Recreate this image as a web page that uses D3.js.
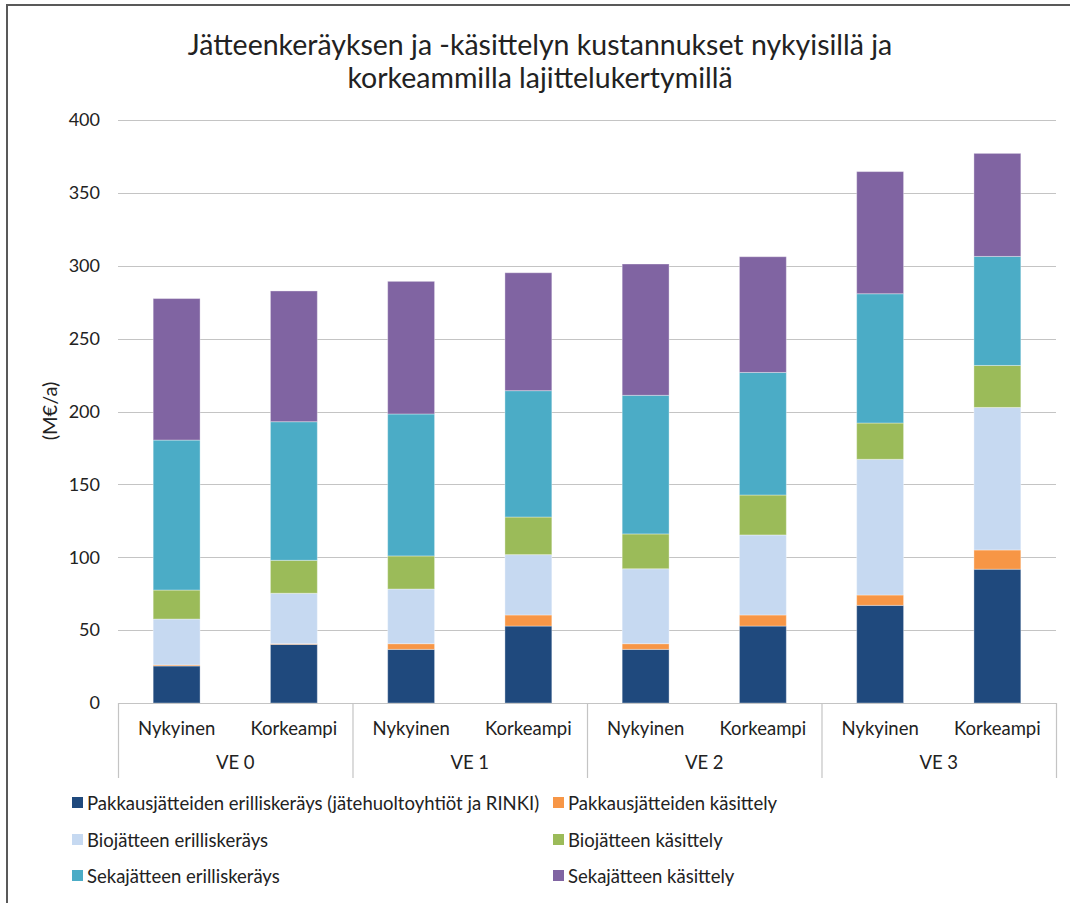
<!DOCTYPE html>
<html>
<head>
<meta charset="utf-8">
<script src="https://cdn.jsdelivr.net/npm/d3@7"></script>
<style>
  html, body { margin: 0; padding: 0; background: #ffffff; }
  svg { display: block; font-family: Lato, "Open Sans", sans-serif; }
</style>
</head>
<body>
<svg id="chart" width="1070" height="903"></svg>
<script>
const title = ["Jätteenkeräyksen ja -käsittelyn kustannukset nykyisillä ja", "korkeammilla lajittelukertymillä"];
const yLabel = "(M€/a)";
const groups = ["VE 0", "VE 1", "VE 2", "VE 3"];
const scenarios = ["Nykyinen", "Korkeampi"];
const yTicks = [0, 50, 100, 150, 200, 250, 300, 350, 400];

const seriesNames = [
  "Pakkausjätteiden erilliskeräys (jätehuoltoyhtiöt ja RINKI)",
  "Pakkausjätteiden käsittely",
  "Biojätteen erilliskeräys",
  "Biojätteen käsittely",
  "Sekajätteen erilliskeräys",
  "Sekajätteen käsittely"
];
const seriesColors = ["#1F497D", "#F79646", "#C6D9F1", "#9BBB59", "#4BACC6", "#8064A2"];

// values per bar: VE0 Nyk, VE0 Kork, VE1 Nyk, VE1 Kork, VE2 Nyk, VE2 Kork, VE3 Nyk, VE3 Kork
const pakkausKerays   = [25.4, 40.2, 36.8, 52.8, 36.8, 52.8, 67.0, 91.8];
const pakkausKasittely= [0.7, 0.5, 3.9, 7.6, 3.9, 7.6, 7.1, 13.2];
const bioKerays       = [31.5, 34.6, 37.5, 41.4, 51.4, 54.9, 93.1, 97.8];
const bioKasittely    = [19.9, 22.6, 22.7, 25.8, 23.9, 27.4, 24.9, 28.8];
const sekaKerays      = [102.9, 95.1, 97.4, 86.7, 95.1, 84.1, 88.7, 74.8];
const sekaKasittely   = [97.1, 89.7, 91.0, 80.9, 90.1, 79.4, 83.8, 70.7];

const seriesValues = [pakkausKerays, pakkausKasittely, bioKerays, bioKasittely, sekaKerays, sekaKasittely];

const categories = [];
groups.forEach(g => scenarios.forEach(s => categories.push({group: g, scenario: s, key: g + "|" + s})));
const rows = categories.map((c, i) => {
  const r = {key: c.key};
  seriesNames.forEach((n, j) => r[n] = seriesValues[j][i]);
  return r;
});

const svg = d3.select("#chart");

// outer frame
svg.append("rect").attr("x", 7).attr("y", 5).attr("width", 1080).attr("height", 920)
  .attr("fill", "none").attr("stroke", "#595959").attr("stroke-width", 2);

const plotLeft = 118, plotRight = 1056, plotTop = 120, plotBottom = 703;

const y = d3.scaleLinear().domain([0, 400]).range([plotBottom, plotTop]);
const x = d3.scaleBand().domain(categories.map(c => c.key)).range([plotLeft, plotRight]).padding(0);
const xg = d3.scaleBand().domain(groups).range([plotLeft, plotRight]).padding(0);

// gridlines + y axis labels
const yAxis = d3.axisLeft(y).tickValues(yTicks).tickSize(0).tickPadding(18);
const ga = svg.append("g").attr("transform", `translate(${plotLeft},0)`).call(yAxis);
ga.select(".domain").remove();
ga.selectAll("text").attr("font-size", 18).attr("fill", "#222").attr("font-family", "Lato, sans-serif");

svg.append("g").selectAll("line").data(yTicks.filter(t => t > 0)).join("line")
  .attr("x1", plotLeft).attr("x2", plotRight)
  .attr("y1", d => Math.round(y(d)) + 0.5).attr("y2", d => Math.round(y(d)) + 0.5)
  .attr("stroke", "#c4c4c4").attr("stroke-width", 1.2);

// stacked bars
const stack = d3.stack().keys(seriesNames)(rows);
const barW = x.bandwidth() * 0.4;
svg.append("g").selectAll("g").data(stack).join("g")
  .attr("fill", (d, i) => seriesColors[i])
  .selectAll("rect").data(d => d).join("rect")
  .attr("x", d => x(d.data.key) + (x.bandwidth() - barW) / 2)
  .attr("width", barW)
  .attr("y", d => y(d[1]))
  .attr("height", d => y(d[0]) - y(d[1]))
  .attr("stroke", "rgba(255,255,255,0.35)").attr("stroke-width", 1);

// x axis baseline and group separators
svg.append("line").attr("x1", plotLeft).attr("x2", plotRight)
  .attr("y1", plotBottom + 0.5).attr("y2", plotBottom + 0.5)
  .attr("stroke", "#c4c4c4").attr("stroke-width", 1.2);
const seps = groups.map(g => xg(g)).concat([plotRight]);
svg.append("g").selectAll("line").data(seps).join("line")
  .attr("x1", d => d + 0.5).attr("x2", d => d + 0.5)
  .attr("y1", plotBottom).attr("y2", 778)
  .attr("stroke", "#c4c4c4").attr("stroke-width", 1.2);

// category labels
svg.append("g").selectAll("text").data(categories).join("text")
  .attr("x", d => x(d.key) + x.bandwidth() / 2)
  .attr("y", 735)
  .attr("text-anchor", "middle").attr("font-size", 18.5).attr("fill", "#222")
  .text(d => d.scenario);

// group labels
svg.append("g").selectAll("text").data(groups).join("text")
  .attr("x", d => xg(d) + xg.bandwidth() / 2)
  .attr("y", 769)
  .attr("text-anchor", "middle").attr("font-size", 18.5).attr("fill", "#222")
  .text(d => d);

// y label
svg.append("text").attr("transform", "translate(57,411) rotate(-90)")
  .attr("text-anchor", "middle").attr("font-size", 20).attr("fill", "#222")
  .text(yLabel);

// title
svg.append("g").selectAll("text").data(title).join("text")
  .attr("x", 540).attr("y", (d, i) => 55 + i * 33)
  .attr("text-anchor", "middle").attr("font-size", 28.5).attr("fill", "#222")
  .text(d => d);

// legend
const legendPos = [
  [72, 803], [553, 803],
  [72, 840], [553, 840],
  [72, 876], [553, 876]
];
const lg = svg.append("g").selectAll("g").data(seriesNames).join("g")
  .attr("transform", (d, i) => `translate(${legendPos[i][0]},${legendPos[i][1]})`);
lg.append("rect").attr("x", 0).attr("y", -6).attr("width", 11).attr("height", 11)
  .attr("fill", (d, i) => seriesColors[i]);
lg.append("text").attr("x", 15).attr("y", 6.5).attr("font-size", 18.5).attr("fill", "#222")
  .text(d => d);
</script>
</body>
</html>
